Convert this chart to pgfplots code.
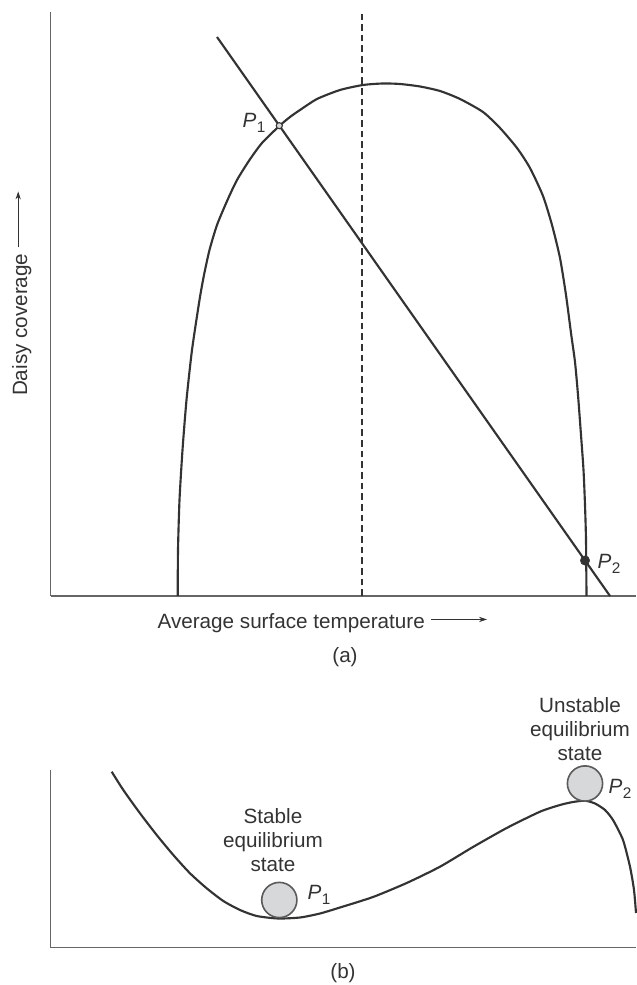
\documentclass[border=0pt]{standalone}
\usepackage{pgfplots}
\pgfplotsset{compat=1.18}
\usetikzlibrary{arrows.meta}
\usepackage{fontspec}
\setmainfont{Liberation Sans}
\definecolor{ink}{HTML}{333333}
\definecolor{axisgray}{HTML}{666666}
\definecolor{ballfill}{HTML}{D6D8DA}
\definecolor{ballline}{HTML}{5A5A5A}

\newcommand{\Pn}[1]{\textit{P}\kern0.3pt\raisebox{-0.5ex}{\fontsize{11.5}{12}\selectfont #1}}
\newcommand{\rarrow}{\raisebox{0.3em}{\tikz\draw[ink, line width=0.6pt, -{Stealth[length=6pt,width=4pt]}] (0,0)--(42pt,0);}}

\pgfplotsset{panel/.style={x=0.75pt, y=0.75pt, axis lines=left,
  axis line style={axisgray, line width=1.1pt, -}, xtick=\empty, ytick=\empty,
  enlargelimits=false, clip=false, anchor=south west,
  every axis label/.append style={font=\fontsize{15.5}{18}\selectfont, text=ink}}}

\begin{document}
\begin{tikzpicture}[every node/.style={font=\fontsize{15.5}{18}\selectfont, text=ink}]
% ---------------- panel (a) ----------------
\begin{axis}[panel, at={(38.025pt,291.75pt)},
  xmin=50.7, xmax=636, ymin=389, ymax=973.3,
  xlabel={Average surface temperature \rarrow},
  ylabel={Daisy coverage \rarrow},
  xlabel style={at={(axis description cs:0.4644,-0.0462)}, anchor=center},
  ylabel style={at={(axis description cs:-0.0495,0.5177)}, anchor=center}]
\addplot[ink, line width=1.6pt, smooth, tension=0.4] coordinates {
 (177.7,389) (178,435) (179.5,485) (182.5,535) (186.5,585) (192,635)
 (199.5,685) (204,710) (209.5,735) (217,760) (227.5,785) (237,805)
 (249.5,825) (262,842) (279.3,859) (290,868) (300,875) (317,886)
 (340,895) (363,900) (383,901.5) (400,901) (420,898.5) (440,894)
 (460,886) (483,873) (500,857) (517,837) (530,817) (543,789) (552,760)
 (560,727) (566,690) (571,652) (575,623) (578,590) (581,550) (583.5,515)
 (585,480) (586,445) (586.5,389)};
\addplot[ink, line width=1.6pt] coordinates {(217,948) (610,389)};
\addplot[ink, line width=1.1pt, dash pattern=on 5pt off 3pt] coordinates {(362,389) (362,971)};
\addplot[only marks, mark=*, mark size=2.3pt, mark options={fill=ballfill, draw=ink, line width=0.8pt}] coordinates {(279.3,859.3)};
\addplot[only marks, mark=*, mark size=3.5pt, mark options={fill=ink, draw=ink}] coordinates {(585,424.5)};
\node[anchor=east] at (axis cs:270,862) {\Pn{1}};
\node[anchor=west] at (axis cs:593,421) {\Pn{2}};
\node at (axis cs:345,328) {(a)};
\end{axis}
% ---------------- panel (b) ----------------
\begin{axis}[panel, at={(38.025pt,27.975pt)},
  xmin=50.7, xmax=636, ymin=37.3, ymax=215]
\addplot[ink, line width=1.6pt, smooth, tension=0.4] coordinates {
 (111.7,213.3) (123.3,195) (140,171.7) (156.7,150) (173.3,130) (190,111.7)
 (206.7,96.7) (223.3,84) (240,75) (256.7,69) (278,66.5) (300,67.5)
 (320,71.5) (340,77.5) (373,88) (406.7,102) (440,118.3) (473,138)
 (506.7,157) (540,173.3) (560,180) (573,183) (585,184.3) (595,181.5)
 (605,175) (613,165) (623,145) (630,118.3) (634,95) (636,72)};
\addplot[only marks, mark=*, mark size=13.2pt, mark options={fill=ballfill, draw=ballline, line width=1.2pt}] coordinates {(279.3,85) (585,201.5)};
\node[align=center] at (axis cs:273,145) {Stable\\equilibrium\\state};
\node[align=center] at (axis cs:580,256) {Unstable\\equilibrium\\state};
\node[anchor=west] at (axis cs:303,90) {\Pn{1}};
\node[anchor=west] at (axis cs:604,196) {\Pn{2}};
\node at (axis cs:343,12) {(b)};
\end{axis}
\pgfresetboundingbox
\useasboundingbox (0,0) rectangle (477pt,738.75pt);
\end{tikzpicture}
\end{document}
